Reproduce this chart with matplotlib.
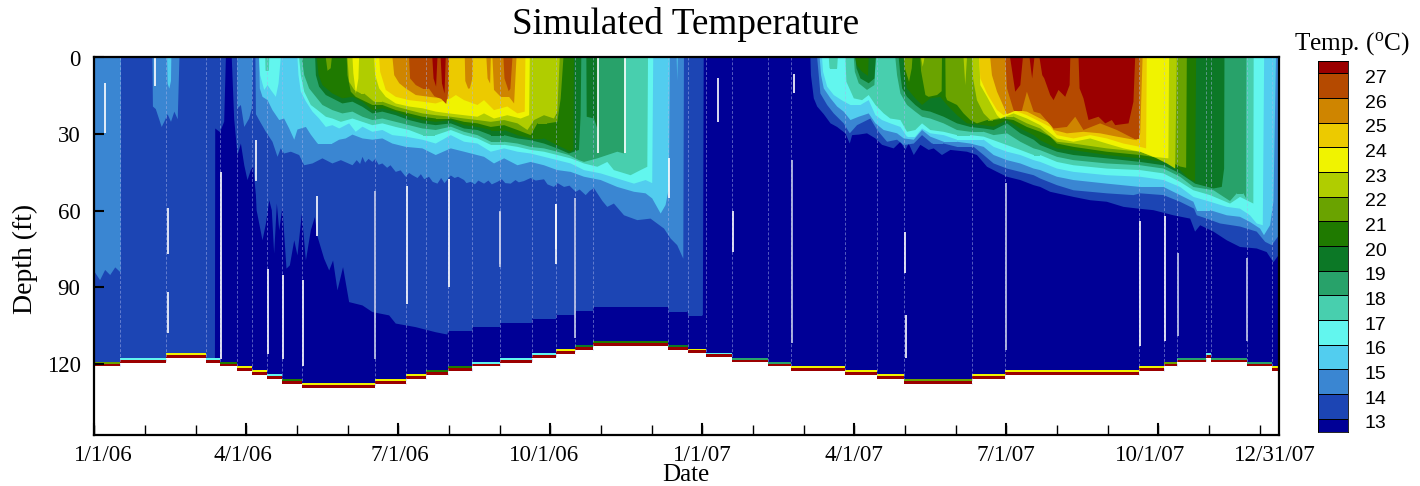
import numpy as np
import matplotlib
matplotlib.use("Agg")
import matplotlib.pyplot as plt
from matplotlib.colors import ListedColormap, BoundaryNorm

# x is in chart days, 30 per tick, the axis has equal months
x_end = 701.2

# colour of each temperature band, coldest first
band_colors = ["#000096", "#1c45b4", "#3a86d2", "#52cdef", "#62f6ee", "#48cfae",
               "#28a26a", "#0c7826", "#1f7a00", "#6aa300", "#b0cd00", "#f0f300",
               "#ecca00", "#cf8500", "#b54a00", "#9b0000"]
legend_levels = list(range(13, 28))

# lake bottom, steps follow the water level
step_edges = [0, 15.1, 42.5, 65.9, 74.3, 84.1, 93, 101.9, 110.8, 122.7, 166, 184.7, 196.6, 209.2,
              223.7, 240, 259, 273.3, 284.5, 295.3, 339.7, 351.5, 362, 377.4, 399, 412.6, 444.5,
              463.4, 479.3, 519.4, 539.2, 618.4, 633.4, 641.1, 658.5, 661.4, 682.7, 697.2, 701.2]
step_depth = [121, 119.5, 117.5, 119.5, 121, 122.7, 124.2, 125.8, 127.7, 129.3, 127.7, 125.8, 124.2,
              122.7, 121, 119.5, 117.5, 116, 114.4, 112.8, 114.4, 115.8, 117.4, 119.4, 121, 122.6,
              124.2, 125.8, 127.7, 125.8, 124.2, 122.6, 121, 119.4, 117.7, 119.4, 121, 122.6]
step_strip = [9, 4, 11, 4, 8, 11, 11, 4, 8, 11, 11, 11, 8, 8, 4, 4, 4, 11, 7, 8, 7, 11,
              4, 6, 6, 11, 11, 11, 9, 11, 11, 11, 9, 6, 4, 6, 6, 11]

# depth of each isotherm, warmer water lies above it
iso14_days = [0, 71, 71.2, 74, 76.5, 77.5, 81, 82.4, 84.4, 86.4, 88.4, 90.3, 92.3, 93.7, 95.3, 95.7, 99.2,
              101.2, 103.2, 104.7, 106.1, 107.7, 109.1, 111, 113.4, 115.4, 118, 119.9, 122.5, 124.9, 127.8,
              130.2, 131.8, 135.7, 138.7, 141, 143.6, 146.9, 150.5, 158.4, 164.3, 174.2, 178.1, 189.9, 201.8,
              208.7, 209.2, 223.5, 223.7, 239.9, 240.1, 258.8, 259, 273.1, 273.3, 284.3, 284.5, 295.1, 295.3,
              339.5, 339.7, 351, 351.2, 360, 360.5, 423.7, 424, 425.7, 427.7, 431.6, 435.6, 439.5, 444.4, 447,
              448.4, 452.3, 457.2, 462.2, 466.1, 473, 477, 479.9, 481.9, 484.9, 488.8, 493.7, 496.7, 501.6,
              506.6, 516.4, 522.3, 528.3, 534.2, 540.1, 548, 555.9, 559.8, 565.7, 579.5, 589.4, 599.2, 609.1,
              618, 626.9, 638.7, 648.6, 651.5, 654.5, 662.4, 670.3, 678.1, 688, 693.9, 697.9, 701.2]
iso14_depth = [135, 135, 27.6, 29, 25, 0, 0, 23.7, 38, 33.5, 42, 47.8, 43.9, 42.6, 53.7, 59.6, 71.4,
               64.9, 55.7, 59.6, 76.6, 57, 67.5, 58.3, 82.5, 81.2, 71.4, 77.3, 61, 79.3, 67.5,
               62.3, 70, 78.6, 83.2, 79.3, 91, 81.9, 95.6, 96.9, 99.5, 100.8, 104, 105.4, 107.4,
               108.3, 106.7, 106.7, 105.1, 105.1, 103.7, 103.7, 102, 102, 100.4, 100.4, 98.8, 98.8, 97.4,
               97.4, 99.2, 99.2, 100.8, 100.8, 0, 0, 6.7, 15.8, 19, 22, 25.6, 27, 29.5, 33.5,
               30.2, 30, 29.5, 31.5, 34, 35.4, 32.8, 36, 33.5, 38, 34, 36, 35.4, 38,
               36, 36.7, 38, 42.6, 44.6, 46.5, 47.8, 49.8, 50.5, 52.4, 54.4, 55.7, 56.3, 58.3,
               59, 59.6, 61.6, 62.9, 68, 65.5, 68, 71.4, 74, 74.6, 76, 80, 77]

iso15_days = [0, 3, 6, 9, 12, 15.2, 15.4, 34, 34.3, 36, 38, 39.5, 41, 43, 45, 47, 49, 50, 84.2, 84.4, 86.4,
              88.4, 91.3, 92.9, 93.5, 95, 95.3, 97.2, 101.2, 105.1, 108.1, 110, 112, 116, 120.9, 123.9, 128.8,
              134.7, 140.6, 145.6,
              152.5, 155, 157, 158.4, 160, 162, 164.3, 166, 168, 170.2, 173, 175, 178.1, 181, 184, 186, 188, 191,
              193, 195, 197.8, 200, 202.8, 205, 207, 210.7, 213, 215, 218.6, 220, 222.5, 225, 227, 230.4, 233,
              235, 238.3, 241, 243, 246.2, 249, 251, 254, 258, 261, 265.9, 268, 271.8, 274, 277.8, 281, 284.7,
              287, 290.6, 293, 295.5, 298, 300.5, 303.4,
              307.3, 313.3, 321.2,
              329, 337, 340.9, 344.8, 348.4, 348.8, 427.7, 429.6, 433.6, 437.5, 443.4, 447, 451.3, 459.2,
              463.2, 469.1, 475, 478.9, 484.9, 489.8, 495.7, 502.6, 510.5, 520.4, 526.3, 532.2, 540.1, 548,
              555.9, 559.8, 569.7, 579.5, 599.2, 615, 619, 632.8, 642.6, 650.9, 652.5, 658.4, 666.3, 678.1,
              688, 693, 696.9, 701.2]
iso15_depth = [84, 87, 83, 85, 82, 84, 0, 0, 19, 20, 24, 27, 25, 22, 25, 21, 24, 0, 0, 19.7, 18.4,
               27, 23.7, 19.7, 0, 0, 22, 24.3, 28.9, 32.8, 38.7, 35.4, 37.4, 36.7, 38, 42, 41.3,
               39.3, 41.3, 40,
               42, 40, 41.5, 38.7, 41, 39.5, 40.7, 39.5, 41.8, 41.3, 43, 42, 44.6, 44, 46.5, 45, 45.9, 47,
               45.5, 47.5, 46.5, 48.5, 49.2, 47, 49, 46, 47, 46.5, 47.8, 49, 48.5, 49.5, 48, 49.2, 48,
               49.5, 48.5, 47.5, 49, 49.2, 47.8, 48.7, 48.2, 47, 48, 47.5, 49.5, 50.5, 49, 50.5, 50, 52.4,
               51.5, 53.7, 52, 51, 53.5, 56, 58.3,
               57, 61.6, 63.5,
               62.9, 66.8, 70.7, 73.3, 78.6, 0, 0, 13.9, 18.4, 21.7, 25.6, 29.5, 26.3, 23.7,
               28.2, 32.8, 32, 34.1, 33.5, 30.2, 33.5, 33.5, 34.8, 34.8, 38, 41.3, 43.3, 44.6,
               45.9, 47.2, 49.8, 51.8, 53, 53.7, 53, 53.7, 56.3, 59, 61.6, 62.9, 64.8, 66,
               68, 72, 73.3, 69.4]

iso16_days = [42.7, 43, 44, 45, 45.2, 97.2, 97.6, 99.2, 102.2, 105.1, 109.1, 112, 115, 118, 119.9, 124.9, 127.8,
              131.8, 136.7, 140.6, 144.6, 148.5, 152.5, 158.4, 164.3, 170.2, 176.1, 184, 193.9, 201.8, 210.7,
              218.6, 230.4, 236.3, 242.3, 250.2, 258, 265.9, 273.8, 281.7, 289.6, 299.5, 309.3, 319.2, 326.1,
              330, 335, 337.9, 339.9, 340.5, 344.5, 344.8, 345.1, 429.2, 430, 431.6, 435.6, 439.5, 443.4,
              447.4, 452.3, 458.2, 462.2, 467.1, 475, 479, 484.9, 489.8, 494.7, 502.6, 510.5, 518.4, 526.3,
              532.2, 540.1, 548, 555.9, 559.8, 569.7, 579.5, 599.2, 619, 632.8, 642.6, 650.5, 652.5, 660.4,
              670.3, 678.1, 684, 690, 692.3, 695.9, 697.9, 699.4]
iso16_depth = [0, 10, 12, 9, 0, 0, 11.9, 15.2, 16.5, 20.4, 24.3, 23.7, 27.6, 32, 28, 27, 30,
               33.5, 33.5, 33.5, 32, 31.5, 30, 31.5, 32, 31.5, 33.5, 34.8, 35.4, 38, 35.4,
               36.7, 38.7, 41.3, 39.3, 42, 40.7, 42, 43.9, 44.6, 46.5, 47.8, 50.5, 52.4, 53,
               55, 60.9, 57.6, 51, 0, 0, 9, 0, 0, 6.7, 11.9, 15.8, 19, 21,
               24.3, 23, 21.7, 25.6, 28.2, 29.5, 31.5, 32, 28.2, 30.8, 32.8, 32.8, 33.5, 34.8,
               38, 40, 41.3, 43.3, 43.9, 46.5, 47.8, 49.2, 50.5, 50.5, 53.7, 56.3, 59.6, 59.6,
               61.6, 62.2, 64.2, 66.8, 69.4, 65.5, 56.3, 0]

iso17_days = [97.2, 97.8, 100.2, 102.2, 104.1, 107.1, 108.7, 110, 119.9, 120.5, 121.9, 124.9, 128.8, 132.7, 136.7,
              140.6, 144.6, 150.5, 154.4, 158.4, 164.3, 170.2, 176.1, 184, 193.9, 201.8, 210.7, 218.6, 226.5,
              234.4, 242.3, 250.2, 258, 265.9, 273.8, 281.7, 289.6, 299.5, 309.3, 319.2, 326.1, 330, 330.6,
              430.6, 431.2, 433.6, 437.5, 440.5, 443.4, 447.4, 453.3, 458.2, 462.2, 466.1, 471, 477, 480.9,
              485.8, 489.8, 494.7, 502.6, 510.5, 518.4, 526.3, 532.2, 540.1, 548, 555.9, 559.8, 569.7, 579.5,
              599.2, 619, 632.8, 642.6, 650.5, 660.4, 670.3, 678.1, 684, 688, 691.6, 692.4]
iso17_depth = [0, 6.7, 12.5, 10.6, 12.5, 15.2, 10, 0, 0, 6.7, 13.2, 17, 21, 23.7, 27,
               26.3, 27.6, 25.6, 28.9, 26.9, 28.9, 28.2, 30.2, 30.8, 32, 33.5, 30.2, 32.8, 33.5,
               36.7, 35.4, 36.7, 37.4, 38.7, 40, 41.3, 43.9, 45.2, 47.2, 49.2, 47.8, 49, 0,
               0, 5.4, 11.2, 14.5, 15.8, 17, 18.4, 18.4, 16.5, 22.4, 24.3, 25.6, 27, 30.8,
               30.8, 27.6, 29.5, 30.2, 32, 32, 32, 34.8, 36.7, 38, 40, 40.7, 43.3, 44.6,
               45.9, 46.5, 47.8, 50.5, 54.4, 56.3, 58.3, 59, 61.6, 64.8, 65.5, 0]

iso18_days = [100.8, 101, 103, 103.2, 120.9, 121.9, 123.9, 127.8, 131.8, 136.7, 140.6, 145.6, 152.5, 158.4, 164.3,
              170.2, 178.1, 186, 193.9, 201.8, 210.7, 218.6, 226.5, 234.4, 242.3, 250.2, 258, 265.9, 273.8,
              281.7, 289.6, 297.5, 303.4, 307.3, 317.2, 323.1, 327.1, 327.5, 434.6, 435, 439.5, 439.9, 444.4,
              445, 449.4, 454.3, 458.2, 462.2, 467.1, 471, 477, 480.9, 485.8, 489.8, 494.7, 502.6, 510.5,
              518.4, 526.3, 532.2, 540.1, 548, 555.9, 559.8, 569.7, 579.5, 599.2, 619, 632.8, 642.6, 650.5,
              660.4, 672.2, 678.1, 686, 686.2]
iso18_depth = [0, 5, 5, 0, 0, 6.7, 13.2, 18.4, 20.4, 23, 23.7, 25, 23.7, 25, 26.3,
               25.6, 27, 28.2, 30.2, 30.2, 28.2, 30.2, 31.5, 34, 34, 34.8, 36, 36.7, 38,
               39.3, 41.3, 42.6, 40.7, 43.9, 45.9, 43.9, 42.6, 0, 0, 4, 4, 0, 0,
               9.3, 15.8, 16.5, 14.5, 18.4, 21.7, 23.7, 24.3, 28.9, 28.2, 25.6, 28.2, 28.9, 30.2,
               30.2, 30.8, 32.2, 34.1, 36, 38, 38, 40.7, 42, 43.3, 43.9, 45.2, 48.5, 51.8,
               53.7, 57, 54.4, 57, 0]

iso19_days = [122.5, 123.9, 126.8, 130.8, 134.7, 140.6, 146.5, 152.5, 158.4, 164.3, 170.2, 178.1, 186, 193.9, 201.8,
              210.7, 218.6, 226.5, 234.4, 242.3, 250.2, 258, 265.9, 273.8, 280.7, 286.6, 289.6, 297.5, 303.4,
              309.3, 313.3, 313.7, 449.4, 450, 452.3, 457.2, 461.6, 462.4, 474, 475, 477, 480.9, 485.8, 489.8,
              494.7, 502.6, 510.5, 518.4, 526.3, 532.2, 540.1, 548, 555.9, 559.8, 569.7, 579.5, 599.2, 619,
              632.8, 642.6, 650.5, 662.4, 672.2, 676.2, 680.1, 681.7, 681.9]
iso19_depth = [0, 6.7, 11.9, 15.2, 18.4, 20.4, 21.7, 21, 23, 24.3, 23.7, 25, 26.3, 27.6, 28.2,
               26.9, 28.9, 30.2, 32.8, 32.8, 33.5, 34.8, 35.4, 36.7, 38, 40, 40.7, 39.3, 38,
               36.7, 37.4, 0, 0, 5.4, 9.9, 12.5, 10.6, 0, 0, 6.7, 13.9, 18.4, 21, 23,
               23.7, 25.6, 28.2, 28.9, 28.9, 30.2, 29.5, 32.8, 35.4, 36.1, 38.7, 40, 41.3, 42,
               43.3, 46.5, 50.5, 51.8, 56, 53, 53, 54.9, 0]

iso20_days = [130.4, 130.8, 132.7, 136.7, 140.6, 146.5, 152.5, 158.4, 164.3, 170.2, 178.1, 186, 193.9, 201.8, 210.7,
              218.6, 226.5, 234.4, 242.3, 250.2, 258, 265.9, 273.8, 280.7, 283.7, 286.6, 287.6, 288, 291, 291.2,
              295.5, 297.5, 297.9, 450.3, 451, 453.3, 458.2, 461.6, 462.4, 476, 477, 478, 480.9, 485.8, 489.8,
              494.7, 502.6, 510.5, 518.4, 526.3, 532.2, 540.1, 548, 555.9, 559.8, 569.7, 579.5, 599.2, 619,
              632.8, 642.6, 651.5, 662.4, 667.3, 668.7, 668.9]
iso20_depth = [0, 6.7, 11.2, 14.5, 15.8, 17.8, 17.1, 19.1, 21.7, 21, 22.4, 24.3, 25.6, 26.3, 25.6,
               27.6, 28.2, 30.2, 30.2, 31.5, 32.2, 33.5, 35.4, 37.4, 36.7, 36, 22.4, 0, 0, 23,
               23.7, 27.6, 0, 0, 4, 8, 9.9, 8, 0, 0, 6.7, 11.9, 15.2, 18.4, 20.4,
               21, 23, 25.6, 27, 27.6, 28.2, 25.6, 29.5, 32, 34.1, 36.7, 38, 39.3, 40.7,
               42, 45.2, 49.2, 51.1, 50.5, 43.3, 0]

iso21_days = [131.4, 132.4, 134.7, 140.6, 146.5, 152.5, 158.4, 164.3, 170.2, 178.1, 186, 193.9, 201.8, 210.7, 218.6,
              226.5, 234.4, 242.3, 250.2, 258, 265.9, 271.8, 275.8, 281.7, 283.3, 283.7, 450.3, 451.3, 454.3,
              457.8, 458.2, 479, 479.3, 480.9, 485.8, 489.8, 494.7, 500.6, 504.6, 510.5, 516.4, 526.3, 532.2,
              540.1, 548, 555.9, 559.8, 569.7, 579.5, 599.2, 619, 632.8, 642.6, 647.6, 651.5, 652.1]
iso21_depth = [0, 6.7, 10.6, 13.9, 15.8, 15.2, 17.1, 20.4, 19.7, 21, 23, 24.3, 25, 24.3, 26.3,
               27, 28.2, 28.2, 30.2, 31.5, 31.5, 33.5, 34.8, 36.7, 36, 0, 0, 3, 5.4,
               7, 0, 0, 5.4, 11.9, 15.8, 18.4, 15.8, 15.2, 18.4, 22.4, 25.6, 26.3, 26.9,
               24.3, 27.6, 30.2, 32.2, 35.4, 36.1, 38, 39.3, 40.7, 43.9, 47.2, 48.5, 0]

iso22_days = [136.7, 137.7, 139.6, 140.2, 149.1, 149.5, 151.5, 154.4, 158.4, 164.3, 170.2, 178.1, 186, 193.9, 201.8,
              210.7, 218.6, 226.5, 234.4, 242.3, 250.2, 258, 262, 267.9, 273.8, 275.8, 277.4, 479, 479.6, 482.1,
              483.7, 484.1, 488.8, 489.2, 491.8, 493.7, 498.7, 501.4, 501.6, 503.6, 503.8, 504.6, 510.5, 514.4,
              518.4, 522.3, 528.3, 532.2, 538.1, 544, 551.9, 559.8, 565.7, 569.7, 579.5, 599.2, 619, 632.8,
              642.6, 646.2, 646.6]
iso22_depth = [0, 5, 4, 0, 0, 6.7, 13.2, 15.2, 16.5, 18.4, 18.4, 20.4, 21.7, 23, 23.7,
               23.7, 25, 25.6, 27, 26.3, 28.2, 30.2, 25.6, 25.6, 25, 15.8, 0, 0, 4, 9.3,
               4, 0, 0, 5, 14.5, 15.2, 14.5, 13, 0, 0, 15, 16.5, 18.4, 21.7,
               24.3, 25.6, 24.3, 24.3, 23.7, 24.3, 27, 28.9, 30.8, 33.5, 34.8, 36.7, 38, 39.3,
               42.5, 43, 0]

iso23_days = [149.5, 150.5, 153.5, 157.4, 159.4, 165.3, 170.2, 178.1, 186, 193.9, 201.8, 210.7, 218.6, 226.5, 234.4,
              242.3, 250.2, 256.1, 260, 265.9, 271.8, 273.8, 275.2, 489.2, 490.2, 491.2, 514.4, 515.4, 516.4,
              519.4, 520, 522.3, 526.3, 530.2, 534.2, 538.1, 544, 551.9, 559.8, 569.7, 579.5, 599.2, 619,
              628.8, 634.8, 639.7, 640.7]
iso23_depth = [0, 9.3, 12.5, 13.9, 13.9, 17.1, 17.1, 19, 20.4, 21.7, 22.4, 23, 23.7, 24.3, 25,
               24.3, 25.6, 28.2, 24.3, 22.4, 23.7, 21, 0, 0, 3.4, 0, 0, 10.6, 0,
               0, 8, 16.5, 21.7, 24.3, 23.7, 23, 23, 25.6, 27.6, 32.8, 33.5, 35.4, 36.7,
               39.3, 41.3, 43.3, 0]

iso24_days = [152.5, 153, 154.5, 156, 156.4, 165.3, 165.9, 168.3, 172.2, 178.1, 186, 193.9, 201.8, 209.7, 218.6,
              226.5, 230.4, 236.3, 244.2, 252.1, 257.1, 257.5, 523.7, 524.3, 528.3, 534.2, 536.1, 544, 551.9,
              559.8, 569.7, 579.5, 589.4, 599.2, 609.1, 619, 626.9, 635.7, 636.1]
iso24_depth = [0, 6, 13.9, 8, 0, 0, 6.7, 11.9, 15.2, 17.8, 19, 19.7, 21, 21.7, 22.4,
               23, 21.7, 23.7, 22.4, 23.7, 22.4, 0, 0, 10.6, 15.2, 22.4, 23.7, 21.7, 23.7,
               26.3, 31.5, 32.8, 31.5, 33.5, 35.4, 36.7, 38.7, 39.3, 0]

iso25_days = [168.3, 168.9, 172.2, 178.1, 186, 193.9, 201.8, 210.7, 213.7, 218.6, 226.5, 230.4, 236.3, 244.2, 250.2,
              254.5, 254.9, 523.7, 524.3, 528.3, 534.2, 538.1, 544, 551.9, 559.8, 565.7, 569.7, 579.5, 589.4,
              599.2, 609.1, 619, 622.5, 622.9]
iso25_depth = [0, 5.4, 12.5, 15.2, 16.5, 17.1, 17.8, 15.8, 14.5, 16.5, 18.4, 16.5, 20.4, 19, 21.7,
               21, 0, 0, 8, 13.9, 20.4, 22.4, 20.4, 22.4, 25, 27, 30.2, 31.5, 30.2,
               31.5, 33.5, 34.8, 35.4, 0]

iso26_days = [176.2, 177.2, 180.2, 184, 190, 197.8, 205.7, 209.4, 209.6, 219, 219.3, 221, 222, 223.5, 223.8,
              231.8, 232.5, 234, 234.4, 235.4, 236.3, 240.3, 245.2, 248.2, 249.6, 530.2, 531.2, 534.2, 538.1,
              540.1, 546, 551.9, 559.8, 565.7, 567.7, 575.6, 585.4, 595.3, 605.2, 617, 619, 620.4]
iso26_depth = [0, 6.7, 9.9, 11.9, 14.5, 15.2, 15.8, 15.8, 0, 0, 9, 12, 11.9, 8, 0,
               0, 8, 10, 0, 0, 12.5, 15.2, 15.2, 17.8, 0, 0, 6.7, 13.2, 19,
               22, 20.4, 21, 23.7, 25.6, 28.2, 29.5, 28.9, 29.5, 30.8, 32.2, 29.5, 0]

iso27_days = [186, 186.6, 190, 194, 197.8, 201, 205, 208, 209.4, 209.6, 241.9, 242.5, 245, 246, 247.2,
              539.1, 540.1, 544, 549, 551.9, 555.9, 559.8, 567.7, 575.6, 580.5, 585.4, 595.3, 605.2, 615, 618.4, 618.8]
iso27_depth = [0, 8, 10.6, 12, 12, 15, 16, 18, 12, 0, 0, 8, 13, 12, 0,
               0, 11.9, 20.4, 20.4, 13.2, 21, 21.7, 27.6, 27, 23, 28.2, 25.6, 28.2, 31.5, 31.5, 0]

iso28_days = [199.8, 200.5, 202, 202.8, 204.7, 205.5, 207, 207.7, 542, 545, 548, 549.5, 553.5, 555, 556.3, 559.4,
              561, 562.2, 565.7, 567.7, 570.6, 574.6, 577.2, 577.6, 582.5, 583.1, 585.4, 588.4, 594.3, 598.3,
              602.2, 604.2, 612.1, 615, 616]
iso28_depth = [0, 8, 11.2, 0, 0, 10, 13.9, 0, 0, 13.2, 10.6, 0, 0, 8, 0, 0,
               6.7, 8, 14.5, 16.5, 12.5, 15.2, 10.6, 0, 0, 11.9, 15.8, 24.3, 23, 25.6,
               24.3, 26.3, 25.6, 17.1, 0]

iso_days = [iso14_days, iso15_days, iso16_days, iso17_days, iso18_days, iso19_days, iso20_days, iso21_days,
            iso22_days, iso23_days, iso24_days, iso25_days, iso26_days, iso27_days, iso28_days]
iso_depth = [iso14_depth, iso15_depth, iso16_depth, iso17_depth, iso18_depth, iso19_depth, iso20_depth, iso21_depth,
             iso22_depth, iso23_depth, iso24_depth, iso25_depth, iso26_depth, iso27_depth, iso28_depth]

# gaps in the plot: day, depth from, depth to
gap_days = [6.2, 35.7, 43.4, 43.4, 74.7, 95.5, 102.6, 111.5, 123.4, 132, 185.3, 209.7, 297.9, 313.9, 340.5,
            273.4, 369.4, 378.3, 414.5, 480.3, 480, 618.9, 633.9]
gap_from = [10, 0, 59, 91.8, 45, 32.5, 83, 85, 87, 54.2, 50.5, 47.6, 0, 0, 39.3,
            57.4, 8, 60.3, 6.3, 101, 68.5, 64, 62]
gap_to = [29.5, 11, 77, 107.8, 118, 48.5, 116, 118, 121, 70, 96.6, 90, 37.4, 37.4, 55,
          81, 25.4, 76.3, 14, 117.8, 84.3, 113, 111]
pale_days = [166.4, 240.2, 273.5, 284.6, 240.3, 539.7, 641.6, 682.8, 413]
pale_from = [52.4, 60.4, 57.3, 55, 60, 49, 76.5, 78.5, 40]
pale_to = [118, 82, 75, 110, 81, 114.5, 109, 111, 112]

y_ticks = [0, 30, 60, 90, 120]
x_tick_days = list(range(0, 700, 30))
x_major_days = list(range(0, 700, 90))
date_labels = ["1/1/06", "4/1/06", "7/1/06", "10/1/06", "1/1/07", "4/1/07", "7/1/07", "10/1/07", "12/31/07"]
date_label_days = [5, 88, 181, 266, 360, 450, 540, 625, 699]

plt.rcParams['font.family'] = ['Liberation Serif', 'DejaVu Serif']
plt.rcParams['mathtext.fontset'] = 'custom'
plt.rcParams['mathtext.rm'] = 'Liberation Serif'

fig = plt.figure(figsize=(14.2, 4.86), dpi=100)
ax = fig.add_axes([94.5 / 1420, 1 - 435 / 486, (1278.5 - 94.5) / 1420, (435 - 57.5) / 486])

# everything is clipped to the water column
step_y = step_depth + [step_depth[-1]]
base = ax.fill_between(step_edges, 0, step_y, step='post', color=band_colors[0], lw=0)
clip = base.get_paths()[0]
for i in range(len(iso_days)):
    poly = ax.fill_between(iso_days[i], 0, iso_depth[i], color=band_colors[i + 1], lw=0)
    poly.set_clip_path(clip, base.get_transform())

# light seams where the water level changes
ax.vlines(step_edges[1:-1], 0, step_depth[:-1], color="#aab6ea", lw=0.7, ls=(0, (3, 2)), alpha=0.5)
ax.vlines(pale_days, pale_from, pale_to, color="#c4cbea", lw=1.2)
ax.vlines(gap_days, gap_from, gap_to, color="white", lw=1.2)

# thin warm layer along the bottom
strip_colors = [band_colors[i] for i in step_strip]
for i in range(len(step_depth)):
    e = [step_edges[i], step_edges[i + 1]]
    d = step_depth[i]
    ax.fill_between(e, d - 1.8, d - 1.1, color=strip_colors[i], lw=0)
    ax.fill_between(e, d - 1.1, d, color=band_colors[15], lw=0)

ax.set_xlim(0, x_end)
ax.set_ylim((435 - 58) / 2.55, 0)
ax.set_xticks(x_tick_days)
ax.set_xticklabels([])
ax.set_yticks(y_ticks)
ax.tick_params(axis='y', direction='in', length=7.5, width=1.5, labelsize=16.5, pad=10)
ax.tick_params(axis='x', direction='in', length=7, width=1)
for t in x_major_days:
    ax.plot([t, t], [ax.get_ylim()[0], ax.get_ylim()[0] - 4.2], color="black", lw=1.5, clip_on=False)
for s in ax.spines.values():
    s.set_linewidth(1.6)
    s.set_zorder(5)

for lab, t in zip(date_labels, date_label_days):
    ax.annotate(lab, (t, 0), xycoords=ax.get_xaxis_transform(), xytext=(0, -7.5),
                textcoords='offset points', ha='center', va='top', fontsize=16.6)

fig.text(686 / 1420, 1 - 25 / 486, "Simulated Temperature", fontsize=26.8, ha='center', va='center')
fig.text(686 / 1420, 1 - 475 / 486, "Date", fontsize=18, ha='center', va='center')
fig.text(25 / 1420, 1 - 259 / 486, "Depth (ft)", fontsize=20, ha='center', va='center', rotation=90)
fig.text(1352 / 1420, 1 - 44 / 486, r"Temp. ($\mathrm{^{o}}$C)", fontsize=18.2, ha='center', va='center')

# colour legend
cax = fig.add_axes([1317.5 / 1420, 1 - 431.7 / 486, 30.5 / 1420, (431.7 - 61) / 486])
edges = np.array([12.47] + legend_levels + [27.5])
cmap = ListedColormap(band_colors)
cax.pcolormesh([0, 1], edges, np.arange(16).reshape(-1, 1), cmap=cmap,
               norm=BoundaryNorm(np.arange(-0.5, 16.5), 16), edgecolors='black', linewidth=0.5)
cax.set_xticks([])
cax.set_yticks(np.array(legend_levels) - 0.13)
cax.set_yticklabels(legend_levels, fontfamily='Liberation Sans', fontsize=14)
cax.yaxis.tick_right()
cax.tick_params(axis='y', length=0, pad=12)
for s in cax.spines.values():
    s.set_linewidth(0.6)

fig.savefig("out.png", dpi=100)
